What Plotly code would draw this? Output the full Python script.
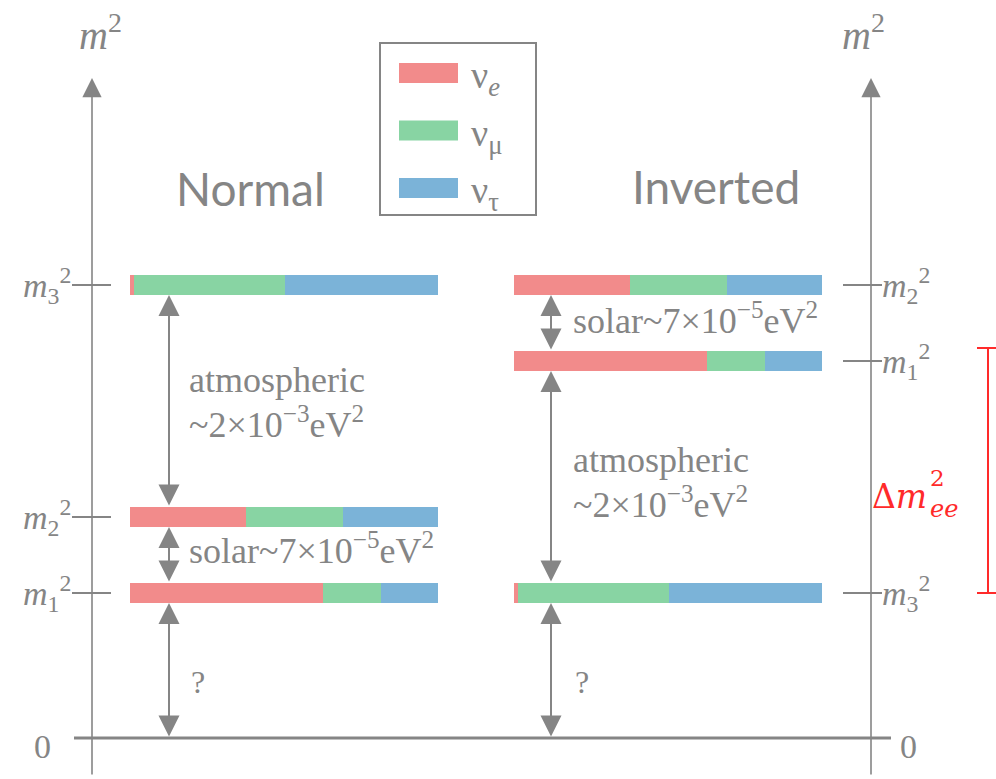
import plotly.graph_objects as go

# ---------------- data ----------------
FLAVOR_LABELS = ["ν<sub><i>e</i></sub>", "ν<sub>μ</sub>", "ν<sub>τ</sub>"]
FLAVOR_COLORS = ["#F28B8B", "#88D4A3", "#7BB3D8"]

STATE_LABELS = ["<i>m</i><sub>1</sub><sup>2</sup>",
                "<i>m</i><sub>2</sub><sup>2</sup>",
                "<i>m</i><sub>3</sub><sup>2</sup>"]

# schematic mass-squared levels (0 = lightest possible), order m1, m2, m3
NORMAL_LEVELS = [1.45, 2.21, 4.53]
INVERTED_LEVELS = [3.77, 4.53, 1.45]

# flavour content (e, mu, tau) of each mass state m1, m2, m3
FRACTIONS = [[0.625, 0.19, 0.185],
             [0.375, 0.315, 0.31],
             [0.012, 0.49, 0.498]]

ORDERINGS = ["Normal", "Inverted"]
ATM_TEXT = ["atmospheric", "~2×10<sup>−3</sup>eV<sup>2</sup>"]
SOLAR_TEXT = "solar~7×10<sup>−5</sup>eV<sup>2</sup>"

# ---------------- layout constants (pixels) ----------------
W, H = 996, 779
ZERO_PIX = 738
SCALE = 100.0


def Y(pix):
    return (ZERO_PIX - pix) / SCALE


BAR_LEN = 308
BAR_T = 0.20
COL_X0 = {"Normal": 130, "Inverted": 514}
ARROW_X = {"Normal": 169, "Inverted": 551}
LEFT_AXIS, RIGHT_AXIS = 92, 871
GRAY = "#858585"
SERIF = "Liberation Serif"
TXT = dict(family=SERIF, size=34, color=GRAY)

fig = go.Figure()
levels = {"Normal": NORMAL_LEVELS, "Inverted": INVERTED_LEVELS}

# stacked flavour bars
for o in ORDERINGS:
    for i, lv in enumerate(levels[o]):
        cum = 0.0
        for f, frac in enumerate(FRACTIONS[i]):
            fig.add_trace(go.Bar(
                orientation="h", y=[lv], x=[frac * BAR_LEN],
                base=[COL_X0[o] + cum * BAR_LEN], width=BAR_T,
                marker=dict(color=FLAVOR_COLORS[f], line=dict(width=0)),
                hoverinfo="skip", showlegend=False))
            cum += frac

shapes = []
ann = []

# vertical axes with arrow heads
for xa in (LEFT_AXIS, RIGHT_AXIS):
    ann.append(dict(x=xa, y=Y(78), ax=xa, ay=Y(776), xref="x", yref="y",
                    axref="x", ayref="y", text="", showarrow=True,
                    arrowhead=2, arrowsize=2.4, arrowwidth=1.6,
                    arrowcolor=GRAY, standoff=0))
# m^2 axis titles
for xa, dx in ((LEFT_AXIS, 8), (RIGHT_AXIS, -8)):
    ann.append(dict(x=xa + dx, y=Y(32), xref="x", yref="y", showarrow=False,
                    text="<i>m</i><sup>2</sup>",
                    font=dict(family=SERIF, size=40, color=GRAY)))
# zero line
shapes.append(dict(type="line", x0=74, x1=891, y0=0, y1=0, xref="x", yref="y",
                   line=dict(color=GRAY, width=3)))
for xz in (42, 908):
    ann.append(dict(x=xz, y=Y(746), xref="x", yref="y", showarrow=False,
                    text="0", font=dict(family=SERIF, size=34, color=GRAY)))

# ticks and level labels
for i, lv in enumerate(NORMAL_LEVELS):
    shapes.append(dict(type="line", x0=72, x1=111, y0=lv, y1=lv, xref="x",
                       yref="y", line=dict(color=GRAY, width=2)))
    ann.append(dict(x=73, y=lv, xref="x", yref="y", xanchor="right",
                    yanchor="middle", showarrow=False, text=STATE_LABELS[i],
                    font=TXT))
for i, lv in enumerate(INVERTED_LEVELS):
    shapes.append(dict(type="line", x0=843, x1=882, y0=lv, y1=lv, xref="x",
                       yref="y", line=dict(color=GRAY, width=2)))
    ann.append(dict(x=880, y=lv, xref="x", yref="y", xanchor="left",
                    yanchor="middle", showarrow=False, text=STATE_LABELS[i],
                    font=TXT))


def darrow(x, y_top, y_bot):
    ann.append(dict(x=x, y=y_top, ax=x, ay=y_bot, xref="x", yref="y",
                    axref="x", ayref="y", text="", showarrow=True,
                    arrowhead=2, arrowsize=2.1, arrowwidth=2,
                    arrowside="end+start", arrowcolor=GRAY,
                    standoff=0, startstandoff=0))


h = BAR_T / 2
# Normal ordering arrows
n1, n2, n3 = NORMAL_LEVELS
xa = ARROW_X["Normal"]
darrow(xa, n3 - h, n2 + h)
darrow(xa, n2 - h, n1 + h)
darrow(xa, n1 - h, 0)
# Inverted ordering arrows
i1, i2, i3 = INVERTED_LEVELS
xb = ARROW_X["Inverted"]
darrow(xb, i2 - h, i1 + h)
darrow(xb, i1 - h, i3 + h)
darrow(xb, i3 - h, 0)


# interval texts
def label(x, y, text, size=36):
    ann.append(dict(x=x, y=y, xref="x", yref="y", xanchor="left",
                    yanchor="middle", showarrow=False, text=text,
                    font=dict(family=SERIF, size=size, color=GRAY)))


label(xa + 18, Y(380), ATM_TEXT[0])
label(xa + 18, Y(422), ATM_TEXT[1])
label(xa + 18, Y(548), SOLAR_TEXT)
label(xa + 20, Y(682), "?", 32)
label(xb + 20, Y(318), SOLAR_TEXT)
label(xb + 20, Y(460), ATM_TEXT[0])
label(xb + 20, Y(502), ATM_TEXT[1])
label(xb + 22, Y(682), "?", 32)

# ordering titles
for o, xc, yc in (("Normal", 250, 188), ("Inverted", 716, 186)):
    ann.append(dict(x=xc, y=Y(yc), xref="x", yref="y", showarrow=False,
                    text=o, font=dict(family="Lato", size=46, color=GRAY)))

# legend box
shapes.append(dict(type="rect", x0=380, x1=536, y0=Y(43), y1=Y(215),
                   xref="x", yref="y", line=dict(color=GRAY, width=2),
                   fillcolor="rgba(0,0,0,0)"))
for k, (lab, col) in enumerate(zip(FLAVOR_LABELS, FLAVOR_COLORS)):
    yc = 73 + 57.5 * k
    shapes.append(dict(type="rect", x0=399, x1=458, y0=Y(yc - 10),
                       y1=Y(yc + 10), xref="x", yref="y",
                       line=dict(width=0), fillcolor=col))
    ann.append(dict(x=469, y=Y(yc + 5), xref="x", yref="y", xanchor="left",
                    yanchor="middle", showarrow=False, text=lab,
                    font=dict(family=SERIF, size=38, color=GRAY)))

# Delta m^2_ee bracket (spans inverted m1 to m3)
RED = "#FF2A2A"
shapes.append(dict(type="line", x0=988, x1=988, y0=i1 + 0.13, y1=i3,
                   xref="x", yref="y", line=dict(color=RED, width=2)))
for yy in (i1 + 0.13, i3):
    shapes.append(dict(type="line", x0=977, x1=1000, y0=yy, y1=yy,
                       xref="x", yref="y", line=dict(color=RED, width=2)))
ann.append(dict(x=870, y=Y(496), xref="x", yref="y", xanchor="left",
                yanchor="middle", showarrow=False, text="Δ<i>m</i>",
                font=dict(family="DejaVu Serif", size=33, color=RED)))
ann.append(dict(x=928, y=Y(478), xref="x", yref="y", xanchor="left",
                yanchor="middle", showarrow=False, text="2",
                font=dict(family="DejaVu Serif", size=23, color=RED)))
ann.append(dict(x=928, y=Y(509), xref="x", yref="y", xanchor="left",
                yanchor="middle", showarrow=False, text="<i>ee</i>",
                font=dict(family="DejaVu Serif", size=24, color=RED)))

fig.update_layout(
    width=W, height=H, margin=dict(l=0, r=0, t=0, b=0),
    paper_bgcolor="white", plot_bgcolor="white", showlegend=False,
    barmode="overlay", bargap=0,
    xaxis=dict(range=[0, W], visible=False, fixedrange=True),
    yaxis=dict(range=[Y(H), Y(0)], visible=False, fixedrange=True),
    shapes=shapes, annotations=ann)

fig.write_html("out.html")
